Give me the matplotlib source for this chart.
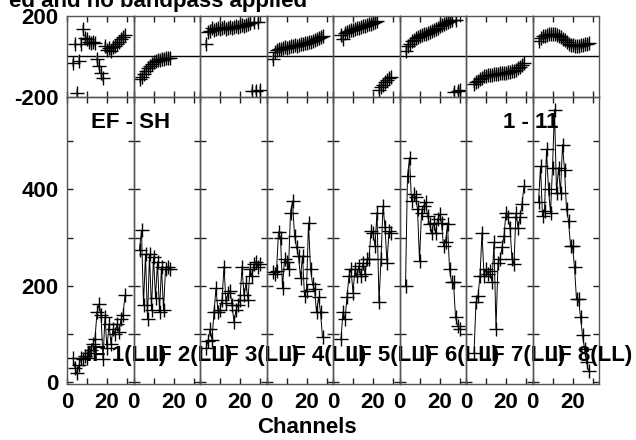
import matplotlib
matplotlib.use('Agg')
import matplotlib.pyplot as plt

plt.rcParams['font.family'] = ['Liberation Sans', 'DejaVu Sans']
plt.rcParams['font.weight'] = 'bold'
plt.rcParams['font.size'] = 16
plt.rcParams['axes.unicode_minus'] = False

chan_if1 = list(range(3, 30))
amp_if1 = [50, 30, 18, 35, 50, 48, 55, 50, 60, 66, 80, 90, 145, 162, 140, 48, 135, 70,
           120, 80, 110, 100, 120, 105, 130, 140, 180]
phase_if1 = [-30, 62, -180, -20, 60, 137, 90, 85, 70, 65, 70, 67, -13, -47, -80, -105,
             53, 30, 40, 25, 45, 50, 60, 70, 85, 95, 105]

chan_if2 = list(range(3, 19))
amp_if2 = [275, 315, 160, 265, 130, 265, 150, 260, 175, 250, 145, 240, 150, 235, 240, 235]
phase_if2 = [-113, -100, -85, -70, -55, -45, -35, -28, -22, -18, -15, -12, -10, -8, -6, -5]

chan_if3 = list(range(3, 31))
amp_if3 = [70, 85, 110, 88, 145, 195, 145, 150, 170, 240, 165, 185, 190, 160, 125, 150,
           160, 170, 240, 180, 205, 170, 235, 220, 245, 250, 240, 245]
phase_if3 = [62, 120, 125, 140, 130, 138, 142, 135, 140, 145, 138, 142, 148, 140, 145, 150,
             148, 152, 155, 150, 158, 160, 165, -172, 168, -168, 170, -165]

chan_if4 = list(range(3, 29))
amp_if4 = [228, 225, 230, 312, 300, 195, 255, 250, 235, 352, 376, 304, 280, 262, 217, 262,
           179, 190, 331, 235, 204, 193, 145, 176, 145, 93]
phase_if4 = [-13, 23, 30, 35, 38, 40, 45, 42, 48, 50, 52, 55, 50, 58, 60, 62, 65, 68, 70,
             72, 75, 80, 85, 90, 95, 100]

chan_if5 = list(range(4, 30))
amp_if5 = [90, 145, 130, 176, 221, 235, 186, 235, 220, 241, 220, 248, 225, 255, 255, 314,
           310, 283, 352, 166, 255, 366, 321, 248, 314, 310]
phase_if5 = [105, 87, 115, 120, 125, 130, 132, 135, 140, 142, 145, 150, 152, 155, 160, 162,
             165, 170, 175, -165, -150, -140, -128, -115, -105, -100]

chan_if6 = list(range(3, 31))
amp_if6 = [200, 428, 466, 376, 390, 385, 359, 252, 352, 366, 373, 345, 328, 310, 330, 310,
           338, 348, 330, 283, 290, 328, 235, 207, 207, 135, 117, 110]
phase_if6 = [28, 53, 62, 75, 80, 90, 95, 100, 105, 110, 112, 118, 122, 128, 130, 135, 140,
             150, 155, 160, 165, 170, 175, 178, -175, 178, -170, -165]

chan_if7 = list(range(4, 30))
amp_if7 = [60, 166, 179, 221, 310, 221, 235, 225, 230, 207, 290, 110, 248, 255, 280, 304,
           352, 342, 320, 255, 245, 352, 320, 342, 369, 407]
phase_if7 = [-135, -128, -120, -112, -105, -98, -95, -93, -90, -92, -88, -86, -85, -83, -82,
             -80, -80, -77, -75, -73, -72, -65, -58, -50, -40, -30]

chan_if8 = list(range(3, 29))
amp_if8 = [373, 448, 345, 355, 483, 400, 352, 445, 566, 393, 445, 393, 493, 441, 359, 335,
           283, 283, 238, 172, 172, 135, 97, 69, 41, 24]
phase_if8 = [78, 90, 100, 103, 108, 110, 112, 112, 110, 105, 100, 95, 88, 80, 70, 62, 58,
             55, 53, 52, 53, 55, 57, 60, 62, 65]

channels = [chan_if1, chan_if2, chan_if3, chan_if4, chan_if5, chan_if6, chan_if7, chan_if8]
amps = [amp_if1, amp_if2, amp_if3, amp_if4, amp_if5, amp_if6, amp_if7, amp_if8]
phases = [phase_if1, phase_if2, phase_if3, phase_if4, phase_if5, phase_if6, phase_if7, phase_if8]
if_labels = ['IF 1(LL)', 'IF 2(LL)', 'IF 3(LL)', 'IF 4(LL)', 'IF 5(LL)', 'IF 6(LL)',
             'IF 7(LL)', 'IF 8(LL)']
PHASE_ERR = 20

W, H = 636, 440
fig = plt.figure(figsize=(W / 100, H / 100), dpi=100)
fig.patch.set_facecolor('white')

x0, pw = 67 / W, 66.5 / W
ph_bot, ph_h = 1 - 97 / H, 81 / H
am_bot, am_h = 1 - 384 / H, 287 / H
frame = '#555555'

for i in range(8):
    axp = fig.add_axes([x0 + i * pw, ph_bot, pw, ph_h])
    axa = fig.add_axes([x0 + i * pw, am_bot, pw, am_h])
    for ax in (axp, axa):
        ax.set_facecolor('none')
        ax.set_xlim(0, 33.25)
        for s in ax.spines.values():
            s.set_color(frame)
            s.set_linewidth(1)
        ax.set_xticks([0, 10, 20, 30])
        ax.tick_params(direction='in', length=4, width=1, top=True, right=True,
                       color='#222222', pad=6)

    # Phase
    axp.set_ylim(-200, 200)
    axp.axhline(0, color='k', lw=1)
    axp.errorbar(channels[i], phases[i], yerr=PHASE_ERR, fmt='none',
                 ecolor='#888888', elinewidth=1.2)
    axp.plot(channels[i], phases[i], '+', color='k', ms=10, mew=1)
    axp.set_xticklabels([])
    axp.set_yticks([-200, 200])
    axp.tick_params(axis='y', length=0)
    if i > 0:
        axp.set_yticklabels([])

    # Amplitude
    axa.set_ylim(-4, 592)
    axa.plot(channels[i], amps[i], '-', color='k', lw=0.7)
    axa.plot(channels[i], amps[i], '+', color='k', ms=10, mew=1)
    axa.set_xticklabels(['0', '', '20', ''])
    axa.set_yticks([0, 100, 200, 300, 400, 500])
    if i == 0:
        axa.set_yticklabels(['0', '', '200', '', '400', ''])
    else:
        axa.set_yticklabels([])
    axa.text(9.5, 55, if_labels[i], ha='left', va='center', fontsize=16,
             clip_on=False, zorder=5)

fig.text(307 / W, 1 - 7 / H, 'ed and no bandpass applied', ha='right', va='baseline',
         fontsize=16)
fig.text(131 / W, 1 - 122 / H, 'EF - SH', ha='center', va='center', fontsize=16)
fig.text(531 / W, 1 - 122 / H, '1 - 11', ha='center', va='center', fontsize=16)
fig.text(307 / W, 1 - 427 / H, 'Channels', ha='center', va='center', fontsize=16)

fig.savefig('out.png', dpi=100)
